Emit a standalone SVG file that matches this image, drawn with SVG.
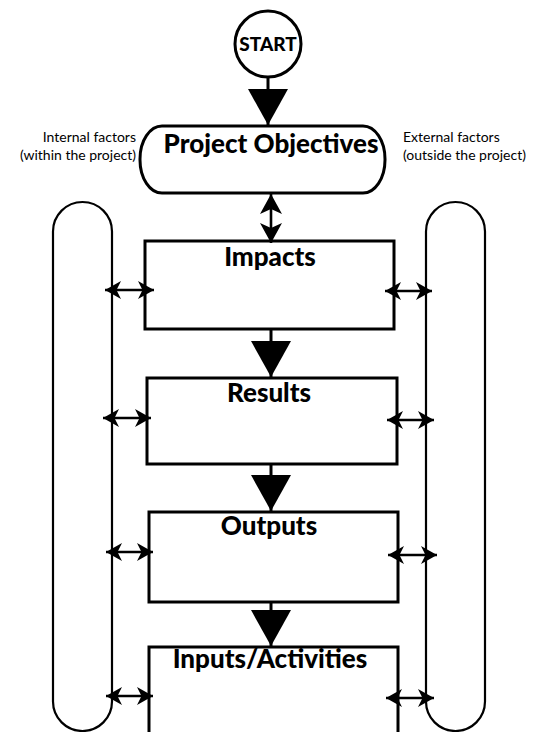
<svg xmlns="http://www.w3.org/2000/svg" width="536" height="732" viewBox="0 0 536 732">
<style>
.box{fill:#fff;stroke:#000;stroke-width:3}
.pill{fill:#fff;stroke:#000;stroke-width:2.2}
.title{font-family:Lato,"Open Sans",sans-serif;font-weight:900;font-size:26px;text-anchor:middle;fill:#000}
.side{font-family:Lato,"Open Sans",sans-serif;font-size:14px;fill:#000}
.flow{stroke:#000;stroke-width:3;fill:none;marker-end:url(#tri)}
.dbl{stroke:#000;stroke-width:2.4;fill:none;marker-start:url(#dh);marker-end:url(#dh)}
.dblv{stroke:#000;stroke-width:2.6;fill:none;marker-start:url(#dhv);marker-end:url(#dhv)}
</style>
<defs>
<marker id="tri" markerUnits="userSpaceOnUse" markerWidth="38" markerHeight="42" refX="36" refY="20" orient="auto" overflow="visible">
<path d="M0,0 L36,20 L0,40 Z" fill="#000"/>
</marker>
<marker id="dh" markerUnits="userSpaceOnUse" markerWidth="18" markerHeight="20" refX="16" refY="9" orient="auto-start-reverse" overflow="visible">
<path d="M0,0 L16,9 L0,18 L4.5,9 Z" fill="#000"/>
</marker>
<marker id="dhv" markerUnits="userSpaceOnUse" markerWidth="22" markerHeight="24" refX="20" refY="11" orient="auto-start-reverse" overflow="visible">
<path d="M0,0 L20,11 L0,22 L5,11 Z" fill="#000"/>
</marker>
</defs>

<g id="internal-pill"><rect class="pill" x="53" y="202" width="59" height="529" rx="29.5" ry="29.5"/></g>
<g id="external-pill"><rect class="pill" x="426" y="202" width="59" height="529" rx="29.5" ry="29.5"/></g>

<g id="start"><circle class="box" cx="268" cy="44" r="33"/><text class="title" x="268" y="51" style="font-size:19px">START</text></g>

<g id="project-objectives"><rect class="box" x="140" y="126" width="245" height="67" rx="22" ry="33"/><text class="title" x="271" y="153">Project Objectives</text></g>

<g id="internal-label"><text class="side" x="136" y="142" text-anchor="end">Internal factors</text><text class="side" x="136" y="160" text-anchor="end">(within the project)</text></g>
<g id="external-label"><text class="side" x="403" y="142">External factors</text><text class="side" x="403" y="160">(outside the project)</text></g>

<g id="impacts"><rect class="box" x="145" y="241" width="249" height="88"/><text class="title" x="270" y="266">Impacts</text></g>
<g id="results"><rect class="box" x="147" y="378" width="250" height="86"/><text class="title" x="269" y="402">Results</text></g>
<g id="outputs"><rect class="box" x="149" y="512" width="249" height="90"/><text class="title" x="269" y="535">Outputs</text></g>
<g id="inputs-activities"><rect class="box" x="149" y="647" width="249" height="100"/><text class="title" x="270" y="668">Inputs/Activities</text></g>

<g id="connectors">
<line class="flow" x1="268" y1="77" x2="268" y2="125"/>
<line class="flow" x1="271" y1="329" x2="271" y2="377"/>
<line class="flow" x1="271" y1="464" x2="271" y2="511"/>
<line class="flow" x1="271" y1="602" x2="271" y2="646"/>
<line class="dblv" x1="271" y1="194" x2="271" y2="243"/>
<line class="dbl" x1="105" y1="290" x2="154" y2="290"/>
<line class="dbl" x1="385" y1="291" x2="432" y2="291"/>
<line class="dbl" x1="103" y1="418" x2="151" y2="418"/>
<line class="dbl" x1="387" y1="420" x2="434" y2="420"/>
<line class="dbl" x1="106" y1="552" x2="153" y2="552"/>
<line class="dbl" x1="388" y1="555" x2="437" y2="555"/>
<line class="dbl" x1="106" y1="696" x2="153" y2="696"/>
<line class="dbl" x1="386" y1="698" x2="434" y2="698"/>
</g>
</svg>
